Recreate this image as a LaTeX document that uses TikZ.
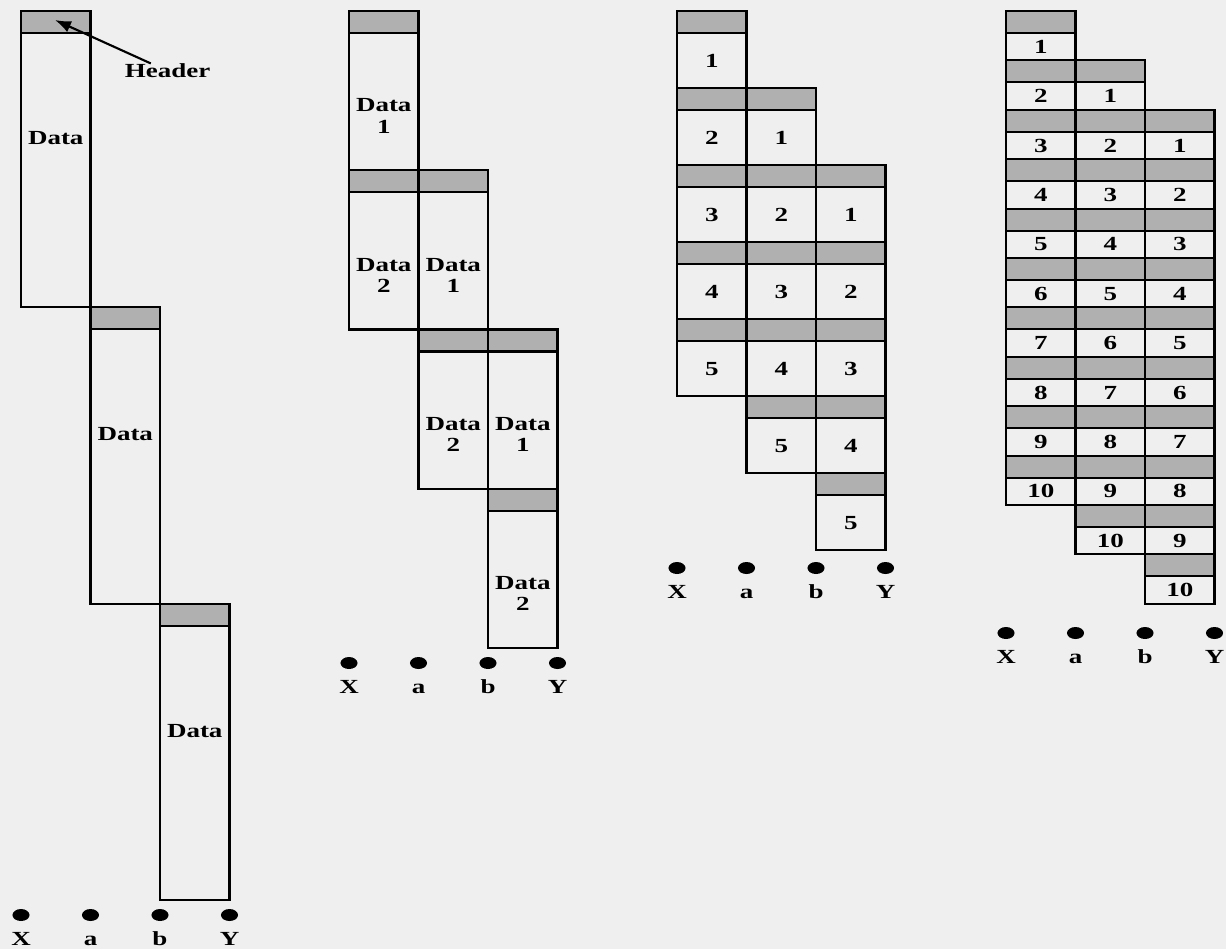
\documentclass[tikz,border=0pt]{standalone}
\usepackage{fontspec}
\setmainfont{Liberation Serif}[FakeStretch=1.35]
\usetikzlibrary{arrows.meta}
\usetikzlibrary{shapes.geometric}
\usetikzlibrary{positioning}
\definecolor{pagegray}{RGB}{239,239,239}
\definecolor{headgray}{RGB}{176,176,176}
\tikzset{
  hdrbox/.style = {draw=black, fill=headgray, line width=0.8pt},% en-tete du paquet
  databox/.style = {draw=black, line width=0.8pt},% partie donnees du paquet
  pktlabel/.style = {align=center, inner sep=0pt,
    font=\bfseries\fontsize{7.5}{8}\selectfont},% texte dans un paquet
  hostdot/.style = {ellipse, fill=black, inner sep=0pt,
    minimum width=6.4pt, minimum height=4.5pt},% noeud du reseau
  hostlbl/.style = {pktlabel, text height=5pt, text depth=0pt}% nom du noeud
}

\begin{document}
\begin{tikzpicture}[x=0.375pt, y=-0.375pt]
  \fill[pagegray] (0,0) rectangle (1226,949);
  \useasboundingbox (0,0) rectangle (1226,949);

  % un seul paquet de 3 morceaux
  \foreach \j in {0,1,2} {
    \pgfmathsetmacro\ytop{11+\j*296.3}
    \draw[hdrbox] (21+\j*69.5,\ytop) rectangle ++(69.5,22);
    \draw[databox] (21+\j*69.5,\ytop+22) rectangle ++(69.5,274.3);
    \node[pktlabel] (a\j) at (55.75+\j*69.5,\ytop+127) {Data};
  }
  \node[pktlabel] (hdlbl) at (167.5,71) {Header};
  \coordinate (hdtip) at (55,20);
  \draw[line width=0.8pt, -{Latex[length=6pt,width=4.5pt]}] (hdlbl) -- (hdtip);

  % deux paquets
  \foreach \j in {0,1,2} {
    \foreach \k in {1,2} {
      \pgfmathsetmacro\ytop{11+(\k-1+\j)*159.25}
      \draw[hdrbox] (349+\j*69.5,\ytop) rectangle ++(69.5,22);
      \draw[databox] (349+\j*69.5,\ytop+22) rectangle ++(69.5,137.25);
      \node[pktlabel] (b\j-\k) at (383.75+\j*69.5,\ytop+105) {Data\\\k};
    }
  }

  % cinq paquets
  \foreach \j in {0,1,2} {
    \foreach \k in {1,...,5} {
      \pgfmathsetmacro\ytop{11+(\k-1+\j)*77}
      \draw[hdrbox] (677+\j*69.5,\ytop) rectangle ++(69.5,22);
      \draw[databox] (677+\j*69.5,\ytop+22) rectangle ++(69.5,55);
      \node[pktlabel] (c\j-\k) at (711.75+\j*69.5,\ytop+50) {\k};
    }
  }

  % dix paquets
  \foreach \j in {0,1,2} {
    \foreach \k in {1,...,10} {
      \pgfmathsetmacro\ytop{11+(\k-1+\j)*49.4}
      \draw[hdrbox] (1006+\j*69.5,\ytop) rectangle ++(69.5,22);
      \draw[databox] (1006+\j*69.5,\ytop+22) rectangle ++(69.5,27.4);
      \node[pktlabel] (d\j-\k) at (1040.75+\j*69.5,\ytop+35.7) {\k};
    }
  }

  % les noeuds X, a, b, Y sous chaque schema
  \foreach \p/\xo/\yd in {1/21/915, 2/349/663, 3/677/568, 4/1006/633} {
    \foreach \hn [count=\i from 0] in {X,a,b,Y} {
      \node[hostdot] (h\p\hn) at (\xo+\i*69.5,\yd) {};
      \node[hostlbl, below=3.6pt of h\p\hn] (l\p\hn) {\hn};
    }
  }
\end{tikzpicture}
\end{document}
